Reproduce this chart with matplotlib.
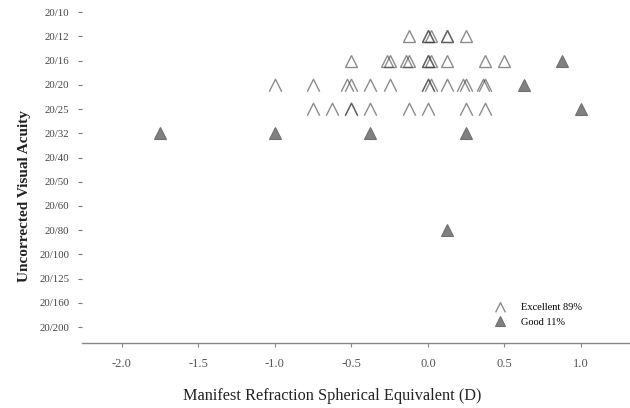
import matplotlib
matplotlib.use("Agg")
import matplotlib.pyplot as plt
from matplotlib.path import Path

plt.rcParams['font.family'] = ['Liberation Serif', 'DejaVu Serif']
plt.rcParams['axes.unicode_minus'] = False

acuity_labels = ['20/10', '20/12', '20/16', '20/20', '20/25', '20/32', '20/40',
                 '20/50', '20/60', '20/80', '20/100', '20/125', '20/160', '20/200']

# excellent outcome, refraction (D) per acuity row
exc_2012 = [-0.125, 0.0, 0.0, 0.02, 0.125, 0.125, 0.25]
exc_2016 = [-0.5, -0.27, -0.25, -0.14, -0.125, 0.0, 0.0, 0.02, 0.125, 0.375, 0.5]
exc_2020 = [-1.0, -0.75, -0.53, -0.5, -0.375, -0.25, 0.0, 0.0, 0.02, 0.125,
            0.23, 0.25, 0.36, 0.375]
exc_2025 = [-0.75, -0.625, -0.5, -0.5, -0.375, -0.125, 0.0, 0.25, 0.375]

# good outcome
good_x = [0.875, 0.625, 1.0, -1.75, -1.0, -0.375, 0.25, 0.125]
good_y = ['20/16', '20/20', '20/25', '20/32', '20/32', '20/32', '20/32', '20/80']

xticks = [-2.0, -1.5, -1.0, -0.5, 0.0, 0.5, 1.0]

chevron = Path([(-1, -1), (0, 1), (1, -1)], [Path.MOVETO, Path.LINETO, Path.LINETO])

fig = plt.figure(figsize=(6.3, 4.08), dpi=100)
ax = fig.add_axes([0.13, 0.159, 0.87, 0.841])

edge = (0.25, 0.25, 0.25, 0.6)
for xs, lab, mk in [(exc_2012, '20/12', '^'), (exc_2016, '20/16', '^'),
                    (exc_2020, '20/20', chevron), (exc_2025, '20/25', chevron)]:
    row = acuity_labels.index(lab)
    ax.plot(xs, [row] * len(xs), linestyle='none', marker=mk, ms=9,
            mfc='none', mec=edge, mew=1.0)

ax.plot(good_x, [acuity_labels.index(v) for v in good_y], linestyle='none',
        marker='^', ms=9, mfc='#808080', mec='#707070', mew=0.8)

# legend handles
h1, = ax.plot([], [], linestyle='none', marker=chevron, ms=7, mfc='none',
              mec=edge, mew=1.0, label='Excellent 89%')
h2, = ax.plot([], [], linestyle='none', marker='^', ms=7, mfc='#808080',
              mec='#707070', mew=0.8, label='Good 11%')
ax.legend(handles=[h1, h2], loc='lower right', bbox_to_anchor=(0.93, 0.02),
          frameon=False, fontsize=7.5, handletextpad=1.0, labelspacing=0.5)

ax.set_xlim(-2.26, 1.32)
ax.set_ylim(13.66, -0.5)
ax.set_xticks(xticks)
ax.set_xticklabels([f'{v:.1f}' for v in xticks])
ax.set_yticks(range(len(acuity_labels)))
ax.set_yticklabels(acuity_labels)

for s in ['top', 'right', 'left']:
    ax.spines[s].set_visible(False)
ax.spines['bottom'].set_color('#888888')
ax.spines['bottom'].set_linewidth(1.0)

ax.tick_params(axis='x', direction='out', length=3, color='#888888',
               labelsize=9, labelcolor='#555555', pad=8)
ax.tick_params(axis='y', direction='out', length=3, color='#777777',
               labelsize=7.8, labelcolor='#444444', pad=6)

ax.set_xlabel('Manifest Refraction Spherical Equivalent (D)', fontsize=11.7,
              color='#222222')
ax.xaxis.set_label_coords(0.456, -0.13)
ax.set_ylabel('Uncorrected Visual Acuity', fontsize=11, fontweight='bold',
              color='#222222')
ax.yaxis.set_label_coords(-0.093, 0.43)

fig.savefig('out.png', dpi=100)
